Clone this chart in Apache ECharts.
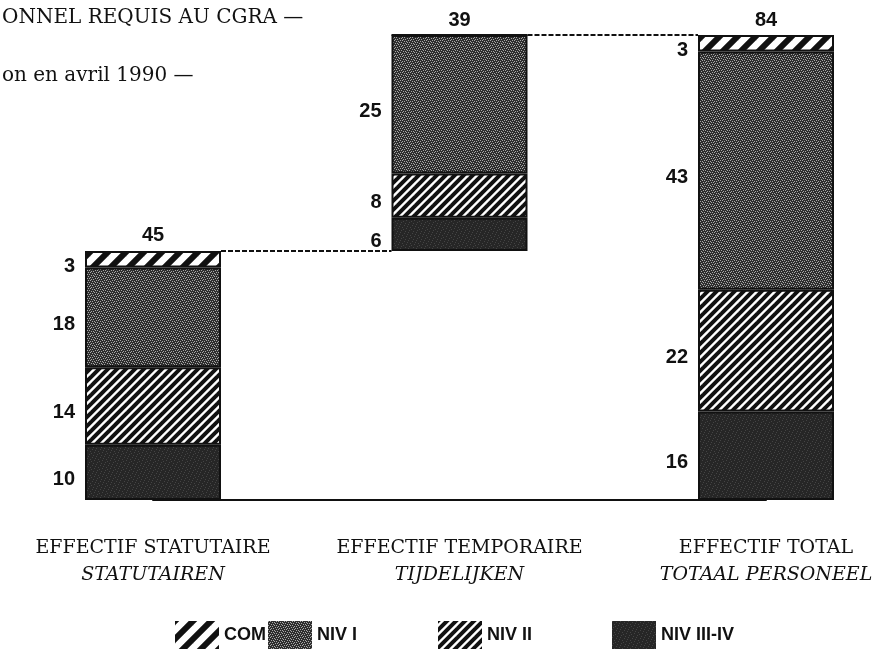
<!DOCTYPE html>
<html>
<head>
<meta charset="utf-8">
<script src="https://cdn.jsdelivr.net/npm/echarts@6/dist/echarts.min.js"></script>
<style>html,body{margin:0;padding:0;background:#fff}#c{width:891px;height:655px}</style>
</head>
<body>
<div id="c"></div>
<script>
// ---- data ----
const categories = ['EFFECTIF STATUTAIRE', 'EFFECTIF TEMPORAIRE', 'EFFECTIF TOTAL'];
const subCategories = ['STATUTAIREN', 'TIJDELIJKEN', 'TOTAAL PERSONEEL'];
const baseOffset = [0, 45, 0];
const nivIIIIV = [10, 6, 16];
const nivII = [14, 8, 22];
const nivI = [18, 25, 43];
const com = [3, 0, 3];
const titleLines = ['ONNEL REQUIS AU CGRA —', 'on en avril 1990 —'];

// ---- derived ----
const totals = categories.map((_, i) => nivIIIIV[i] + nivII[i] + nivI[i] + com[i]);
const tops = categories.map((_, i) => baseOffset[i] + totals[i]);

// ---- patterns ----
function stripes(period, width, tile, bg, fg) {
  const c = document.createElement('canvas');
  c.width = tile; c.height = tile;
  const g = c.getContext('2d');
  g.fillStyle = bg; g.fillRect(0, 0, tile, tile);
  g.strokeStyle = fg; g.lineWidth = width;
  for (let o = -2 * tile; o <= tile * 2; o += period) {
    g.beginPath(); g.moveTo(o - tile, 2 * tile); g.lineTo(o + 2 * tile, -tile); g.stroke();
  }
  return { image: c, repeat: 'repeat' };
}
function stipple(base, dot, pts) {
  const c = document.createElement('canvas');
  c.width = 8; c.height = 8;
  const g = c.getContext('2d');
  g.fillStyle = base; g.fillRect(0, 0, 8, 8);
  g.fillStyle = dot;
  pts.forEach(p => g.fillRect(p[0], p[1], 1, 1));
  return { image: c, repeat: 'repeat' };
}
const sparse = [[0,0],[4,1],[2,3],[6,4],[1,6],[5,7],[3,5],[7,2]];
const dense = [[0,0],[2,0],[4,1],[6,1],[1,2],[7,2],[3,3],[5,3],[0,4],[6,4],[2,5],[4,5],[1,6],[7,6],[3,7],[5,7]];
const comColor = stripes(18, 6, 18, '#fff', '#111');
const niv2Color = stripes(9, 4, 18, '#fff', '#111');
const niv1Color = stipple('#2e2e2e', '#a8a8a8', dense);
const niv34Color = stipple('#262626', '#444444', sparse);

const labelStyle = { show: true, position: 'left', distance: 10, offset: [0, 7], color: '#111',
  fontFamily: 'Liberation Sans', fontWeight: 'bold', fontSize: 20,
  formatter: p => p.value > 0 ? String(p.value) : '' };
const border = { borderColor: '#111', borderWidth: 2 };

function barSeries(name, data, color) {
  return { name, type: 'bar', stack: 'a', barWidth: 136, data,
    itemStyle: Object.assign({ color }, border), label: labelStyle, z: 3 };
}

const legendPos = [170, 263, 433, 607];
const legendNames = ['COM', 'NIV I', 'NIV II', 'NIV III-IV'];

const chart = echarts.init(document.getElementById('c'));
chart.setOption({
  animation: false,
  backgroundColor: '#fff',
  title: titleLines.map((t, i) => ({ text: t, left: -3, top: i === 0 ? 3 : 61,
    textStyle: { fontFamily: 'DejaVu Serif', fontWeight: 'normal', fontSize: 20, color: '#111' } })),
  legend: legendNames.map((n, i) => ({ data: [{ name: n, icon: 'rect' }], left: legendPos[i], top: 616,
    itemWidth: 44, itemHeight: 28, itemGap: 6,
    itemStyle: { borderWidth: 0 },
    textStyle: { fontFamily: 'Liberation Sans', fontWeight: 'bold', fontSize: 18, color: '#111' } })),
  grid: { left: 153, right: 125, top: 35, bottom: 155, containLabel: false },
  xAxis: { type: 'category', data: categories, boundaryGap: false,
    axisLine: { show: true, lineStyle: { color: '#111', width: 2 } },
    axisTick: { show: false },
    axisLabel: { margin: 35, interval: 0,
      formatter: (v, i) => '{a|' + v + '}\n{b|' + subCategories[i] + '}',
      rich: {
        a: { fontFamily: 'DejaVu Serif', fontSize: 19, color: '#111', lineHeight: 27 },
        b: { fontFamily: 'DejaVu Serif', fontSize: 19, fontStyle: 'italic', color: '#111', lineHeight: 27 }
      } } },
  yAxis: { type: 'value', min: 0, max: 84, show: false, splitLine: { show: false } },
  series: [
    { name: 'base', type: 'bar', stack: 'a', barWidth: 136, data: baseOffset,
      itemStyle: { color: 'transparent' }, silent: true },
    barSeries('NIV III-IV', nivIIIIV, niv34Color),
    barSeries('NIV II', nivII, niv2Color),
    barSeries('NIV I', nivI, niv1Color),
    barSeries('COM', com, comColor),
    { name: 'totals', type: 'scatter', symbolSize: 0,
      itemStyle: { opacity: 1, color: '#111' },
      data: categories.map((_, i) => [i, tops[i]]),
      label: { show: true, position: 'top', distance: 5, color: '#111', opacity: 1,
        fontFamily: 'Liberation Sans', fontWeight: 'bold', fontSize: 20,
        formatter: p => String(totals[p.dataIndex]) }, z: 5 },
    { name: 'connectors', type: 'custom',
      data: [[0, 1, tops[0]], [1, 2, tops[1]]],
      encode: { x: [0, 1], y: 2 },
      renderItem: (params, api) => {
        const a = api.coord([api.value(0), api.value(2)]);
        const b = api.coord([api.value(1), api.value(2)]);
        return { type: 'line', shape: { x1: a[0] + 68, y1: a[1], x2: b[0] - 68, y2: b[1] },
          style: { stroke: '#111', lineWidth: 2, lineDash: [5, 2] } };
      }, z: 2 }
  ]
});
</script>
</body>
</html>
